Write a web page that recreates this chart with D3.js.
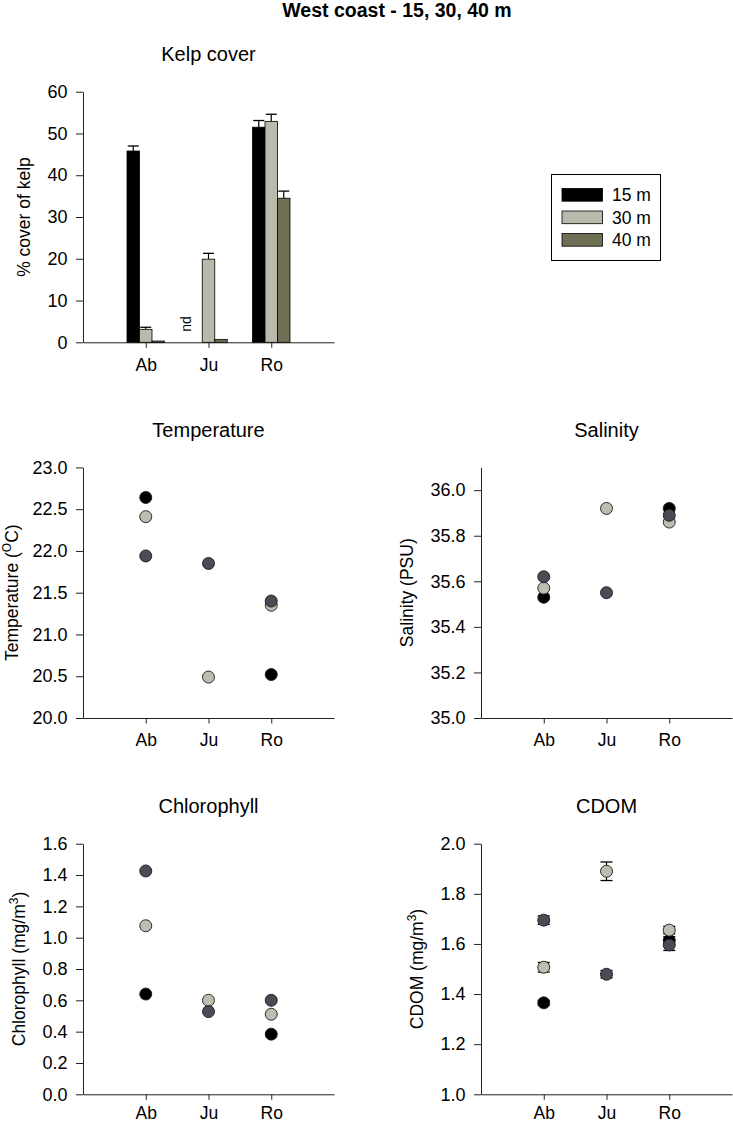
<!DOCTYPE html>
<html><head><meta charset="utf-8">
<script src="https://cdn.jsdelivr.net/npm/d3@7"></script>
<style>
body{margin:0;background:#fff}
text{font-family:"Liberation Sans",Arial,Helvetica,sans-serif;fill:#000}
</style>
</head><body>
<svg id="c" width="733" height="1125"></svg>
<script>
// ---------- data ----------
const sites = ["Ab", "Ju", "Ro"];
const depths = ["15 m", "30 m", "40 m"];

const kelp15 = [45.8, null, 51.5];
const kelp30 = [3.1, 19.9, 52.9];
const kelp40 = [0.3, 0.7, 34.5];
const kelpErr15 = [1.2, null, 1.6];
const kelpErr30 = [0.5, 1.4, 1.7];
const kelpErr40 = [0.0, 0.0, 1.7];

const temp15 = [22.64, null, 20.52];
const temp30 = [22.41, 20.49, 21.35];
const temp40 = [21.94, 21.85, 21.40];

const sal15 = [35.53, null, 35.92];
const sal30 = [35.57, 35.92, 35.86];
const sal40 = [35.62, 35.55, 35.89];

const chl15 = [0.64, null, 0.384];
const chl30 = [1.076, 0.60, 0.511];
const chl40 = [1.426, 0.528, 0.60];

const cdom15 = [1.365, null, 1.614];
const cdom30 = [1.507, 1.89, 1.655];
const cdom40 = [1.695, 1.479, 1.596];
const cdomErr15 = [0.010, null, 0.015];
const cdomErr30 = [0.019, 0.037, 0.015];
const cdomErr40 = [0.017, 0.015, 0.022];

const kelpTicks = [0, 10, 20, 30, 40, 50, 60];
const tempTicks = [20.0, 20.5, 21.0, 21.5, 22.0, 22.5, 23.0];
const salTicks = [35.0, 35.2, 35.4, 35.6, 35.8, 36.0];
const chlTicks = [0.0, 0.2, 0.4, 0.6, 0.8, 1.0, 1.2, 1.4, 1.6];
const cdomTicks = [1.0, 1.2, 1.4, 1.6, 1.8, 2.0];

// ---------- styles ----------
const barFill = ["#000000", "#b9b9ac", "#6f6f55"];
const dotFill = ["#000000", "#bdbdb0", "#4b4b58"];
const svg = d3.select("#c");
const W = 251, H = 250.6;

svg.append("text").attr("x", 397).attr("y", 16.5).attr("text-anchor", "middle")
  .style("font-size", "19.5px").style("font-weight", "bold").text("West coast - 15, 30, 40 m");

function panel(o) {
  const g = svg.append("g");
  const x = d3.scaleLinear().domain([0, 4]).range([o.left, o.left + W]);
  const y = d3.scaleLinear().domain(o.domain).range([o.bottom, o.bottom - H]);
  const ax = g.append("g").attr("transform", `translate(${o.left},0)`)
    .call(d3.axisLeft(y).tickValues(o.ticks).tickSize(7).tickSizeOuter(0).tickPadding(8.5).tickFormat(o.fmt));
  ax.selectAll("text").style("font-size", "18px");
  const bx = g.append("g").attr("transform", `translate(0,${o.bottom})`)
    .call(d3.axisBottom(x).tickValues([1, 2, 3]).tickSize(5.5).tickSizeOuter(0)
      .tickPadding(o.xpad || 10.5).tickFormat(i => sites[i - 1]));
  bx.selectAll("text").style("font-size", "17.5px");
  g.selectAll(".domain, .tick line").attr("stroke", "#222").attr("stroke-width", 1);
  g.append("text").attr("x", o.left + W / 2).attr("y", o.bottom - H - 30.5)
    .attr("text-anchor", "middle").style("font-size", "20px").text(o.title);
  const yl = g.append("text")
    .attr("transform", `translate(${o.left - o.labOff},${o.bottom - H / 2}) rotate(-90)`)
    .attr("text-anchor", "middle").style("font-size", "17.5px");
  yl.append("tspan").text(o.ylab[0]);
  if (o.ylab[1]) {
    yl.append("tspan").attr("dy", -7).style("font-size", "12px").text(o.ylab[1]);
    yl.append("tspan").attr("dy", 7).text(o.ylab[2]);
  }
  return { g, x, y };
}

// ---------- Kelp ----------
{
  const p = panel({ left: 83, bottom: 342.3, domain: [0, 60], ticks: kelpTicks, fmt: d3.format("d"),
    title: "Kelp cover", ylab: ["% cover of kelp"], labOff: 53.4 });
  const sub = d3.scaleBand().domain(depths).range([-18.75, 18.75]);
  const vals = [kelp15, kelp30, kelp40], errs = [kelpErr15, kelpErr30, kelpErr40];
  depths.forEach((dep, k) => {
    sites.forEach((s, i) => {
      const v = vals[k][i];
      const cx = p.x(i + 1) + sub(dep);
      if (v == null) {
        p.g.append("text")
          .attr("transform", `translate(${cx + sub.bandwidth() / 2 - 5},${p.y(0) - 10.5}) rotate(-90)`)
          .style("font-size", "14px").text("nd");
        return;
      }
      const e = errs[k][i] || 0;
      if (e > 0) {
        const xm = cx + sub.bandwidth() / 2;
        p.g.append("line").attr("x1", xm).attr("x2", xm).attr("y1", p.y(v)).attr("y2", p.y(v + e))
          .attr("stroke", "#000").attr("stroke-width", 1.2);
        p.g.append("line").attr("x1", xm - 5.5).attr("x2", xm + 5.5).attr("y1", p.y(v + e)).attr("y2", p.y(v + e))
          .attr("stroke", "#000").attr("stroke-width", 1.3);
      }
      p.g.append("rect").attr("x", cx).attr("width", sub.bandwidth())
        .attr("y", p.y(v)).attr("height", p.y(0) - p.y(v))
        .attr("fill", barFill[k]).attr("stroke", "#000").attr("stroke-width", 0.8);
    });
  });
  // legend
  const lg = svg.append("g");
  lg.append("rect").attr("x", 551.5).attr("y", 174.5).attr("width", 109).attr("height", 86)
    .attr("fill", "#fff").attr("stroke", "#000").attr("stroke-width", 1);
  depths.forEach((dep, k) => {
    const yy = 188.5 + k * 22.5;
    lg.append("rect").attr("x", 562).attr("y", yy).attr("width", 40.5).attr("height", 12.7)
      .attr("fill", barFill[k]).attr("stroke", "#000").attr("stroke-width", 0.8);
    lg.append("text").attr("x", 612).attr("y", yy + 12.7).style("font-size", "17.5px").text(dep);
  });
}

function dots(p, series, errs) {
  series.forEach((arr, k) => {
    arr.forEach((v, i) => {
      if (v == null) return;
      const cx = p.x(i + 1);
      const e = errs ? errs[k][i] : 0;
      if (e) {
        p.g.append("line").attr("x1", cx).attr("x2", cx).attr("y1", p.y(v - e)).attr("y2", p.y(v + e))
          .attr("stroke", "#000").attr("stroke-width", 1.2);
        [v - e, v + e].forEach(t => p.g.append("line").attr("x1", cx - 6).attr("x2", cx + 6)
          .attr("y1", p.y(t)).attr("y2", p.y(t)).attr("stroke", "#000").attr("stroke-width", 1.3));
      }
      p.g.append("circle").attr("cx", cx).attr("cy", p.y(v)).attr("r", 6)
        .attr("fill", dotFill[k]).attr("stroke", "#1a1a1a").attr("stroke-width", 0.9);
    });
  });
}

// ---------- Temperature ----------
dots(panel({ left: 83, bottom: 718, domain: [20, 23], ticks: tempTicks, fmt: d3.format(".1f"),
  title: "Temperature", ylab: ["Temperature (", "O", "C)"], labOff: 65.5 }), [temp15, temp30, temp40]);

// ---------- Salinity ----------
dots(panel({ left: 481, bottom: 718, domain: [35, 36.1], ticks: salTicks, fmt: d3.format(".1f"),
  title: "Salinity", ylab: ["Salinity (PSU)"], labOff: 68 }), [sal15, sal30, sal40]);

// ---------- Chlorophyll ----------
dots(panel({ left: 83, bottom: 1094.3, domain: [0, 1.6], ticks: chlTicks, fmt: d3.format(".1f"),
  title: "Chlorophyll", ylab: ["Chlorophyll (mg/m", "3", ")"], labOff: 58, xpad: 7 }), [chl15, chl30, chl40]);

// ---------- CDOM ----------
dots(panel({ left: 481, bottom: 1094.3, domain: [1, 2], ticks: cdomTicks, fmt: d3.format(".1f"),
  title: "CDOM", ylab: ["CDOM (mg/m", "3", ")"], labOff: 58, xpad: 7 }), [cdom15, cdom30, cdom40],
  [cdomErr15, cdomErr30, cdomErr40]);
</script>
</body></html>
